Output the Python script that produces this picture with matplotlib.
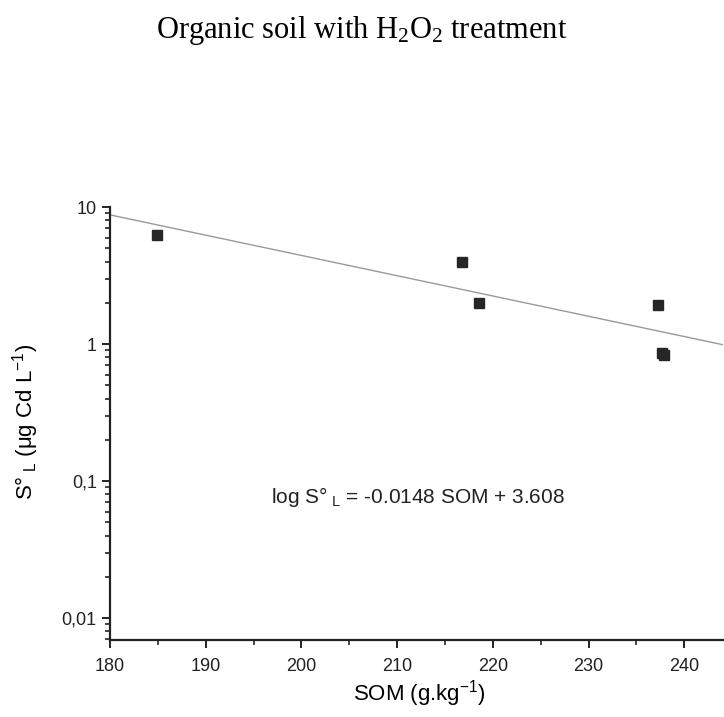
import matplotlib
matplotlib.use("Agg")
import matplotlib.pyplot as plt
import matplotlib.ticker as mticker
import numpy as np

# measured points
som = [184.9, 216.8, 218.6, 237.3, 237.7, 237.9]
s_l = [6.25, 3.97, 1.99, 1.93, 0.86, 0.83]

# fitted line: log S = slope*SOM + intercept
slope = -0.0148
intercept = 3.608
x_range = [180, 244]

y_ticks = [0.01, 0.1, 1, 10]
y_ticklabels = ["0,01", "0,1", "1", "10"]
x_ticks = [180, 190, 200, 210, 220, 230, 240]

sans = ["Liberation Sans", "DejaVu Sans"]


def draw_fig():
    fig = plt.figure(figsize=(7.24, 7.17), dpi=100)
    ax = fig.add_axes([0.152, 0.107, 0.846, 0.604])

    xl = np.array(x_range, dtype=float)
    ax.plot(xl, 10 ** (slope * xl + intercept), '-', color="#9a9a9a", linewidth=1.0)
    ax.plot(som, s_l, 's', color="#262626", markersize=7.5, zorder=3)

    ax.set_yscale("log")
    ax.set_xlim(x_range)
    ax.set_ylim(0.0069, 10)
    ax.set_xticks(x_ticks)
    ax.xaxis.set_minor_locator(mticker.MultipleLocator(5))
    ax.set_yticks(y_ticks)
    ax.set_yticklabels(y_ticklabels)
    ax.yaxis.set_minor_locator(mticker.LogLocator(base=10, subs=np.arange(2, 10)))
    ax.yaxis.set_minor_formatter(mticker.NullFormatter())

    # remove box
    ax.spines['top'].set_visible(False)
    ax.spines['right'].set_visible(False)
    for s in ['left', 'bottom']:
        ax.spines[s].set_linewidth(1.6)
        ax.spines[s].set_color("#222222")
    ax.tick_params(which="major", direction="out", length=6, width=1.4, labelsize=13, colors="#222222")
    ax.tick_params(which="minor", direction="out", length=3.5, width=1.2, colors="#222222")
    for lab in ax.get_xticklabels() + ax.get_yticklabels():
        lab.set_family(sans)
    ax.tick_params(axis="x", pad=7)

    ax.set_xlabel(r"SOM (g.kg$^{-1}$)", fontsize=16, family=sans)
    ax.xaxis.set_label_coords(0.505, -0.088)
    ax.set_ylabel(r"S$\degree_{\ L}$ ($\mathregular{\mu}$g Cd L$^{-1}$)", fontsize=16, family=sans)
    ax.yaxis.set_label_coords(-0.113, 0.505)

    ax.text(0.502, 0.33, r"log S$\degree_{\ L}$ = -0.0148 SOM + 3.608", transform=ax.transAxes,
            ha="center", va="center", fontsize=15, family=sans, color="#222222")

    fig.text(0.5, 0.958, r"Organic soil with H$\mathregular{_2}$O$\mathregular{_2}$ treatment",
             ha="center", va="center", fontsize=22, family=["Liberation Serif", "DejaVu Serif"])

    fig.savefig("out.png", dpi=100)
    plt.close()


if __name__ == '__main__':
    plt.rcParams['mathtext.fontset'] = 'custom'
    plt.rcParams['mathtext.rm'] = 'Liberation Sans'
    plt.rcParams['mathtext.it'] = 'Liberation Sans'
    draw_fig()
